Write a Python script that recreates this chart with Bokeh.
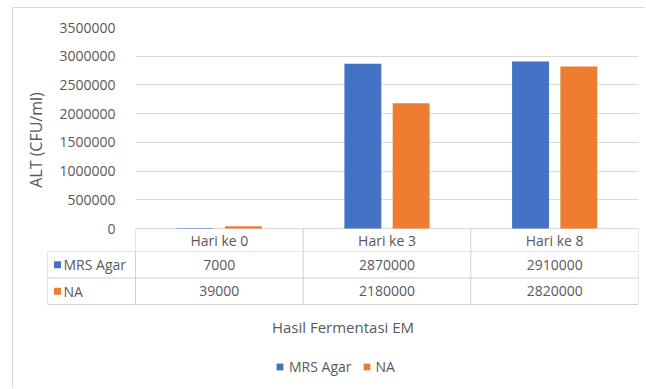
import numpy as np
from bokeh.plotting import figure
from bokeh.models import (Range1d, FixedTicker, NumeralTickFormatter, Legend, LegendItem)
from bokeh.core.properties import value
from bokeh.embed import file_html
from bokeh.resources import INLINE

# --- data -------------------------------------------------------------
days = ["Hari ke 0", "Hari ke 3", "Hari ke 8"]
mrs_agar = [7000, 2870000, 2910000]
na = [39000, 2180000, 2820000]
series_names = ["MRS Agar", "NA"]
y_ticks = [0, 500000, 1000000, 1500000, 2000000, 2500000, 3000000, 3500000]

# --- style ------------------------------------------------------------
COLORS = ["#4472C4", "#ED7D31"]
FONT = "Open Sans"
TEXT = "#595959"
GRID = "#d9d9d9"
TABLE_LINE = "#d0d0d0"
BORDER = "1px solid #d9d9d9"
FS = "14px"
FS_TITLE = "15px"

W = 633                 # figure width (page width minus left margin and border)
n = len(days)
centers = np.arange(n) + 0.5
bar_w = 0.22
dodge = 0.144

# vertical layout of the chart figure (pixels)
TOP_H = 244             # chart figure height, includes the table header row
FRAME_TOP = 19
HEADER_PX = 24          # height of the table header row under the zero line
plot_px = TOP_H - FRAME_TOP - HEADER_PX
y_max = y_ticks[-1]
y_min = -HEADER_PX * y_max / plot_px

# --- chart area + table header ---------------------------------------
top = figure(width=W, height=TOP_H, x_range=Range1d(0, n), y_range=Range1d(y_min, y_max),
             output_backend="svg", toolbar_location=None,
             min_border_left=122, min_border_right=8, min_border_top=FRAME_TOP,
             min_border_bottom=0,
             margin=(7, 0, 0, 12), styles={"border-left": BORDER, "border-top": BORDER})
top.xaxis.visible = False
top.outline_line_color = None
top.xgrid.visible = False
top.ygrid.grid_line_color = GRID

for vals, off, col in zip([mrs_agar, na], [-dodge, dodge], COLORS):
    top.vbar(x=centers + off, top=vals, width=bar_w, fill_color=col, line_color=None)

# header cells of the data table
top.segment(x0=list(range(n + 1)), y0=[y_min] * (n + 1), x1=list(range(n + 1)),
            y1=[0] * (n + 1), line_color=TABLE_LINE, line_width=1)
top.text(x=centers, y=[y_min / 2] * n, text=days, text_align="center",
         text_baseline="middle", text_font=value(FONT), text_font_size=FS, text_color=TEXT)

ya = top.yaxis[0]
ya.ticker = FixedTicker(ticks=y_ticks)
ya.formatter = NumeralTickFormatter(format="0")
ya.axis_label = "ALT (CFU/ml)"
ya.axis_label_text_font = FONT
ya.axis_label_text_font_size = "16px"
ya.axis_label_text_font_style = "normal"
ya.axis_label_text_color = TEXT
ya.axis_label_standoff = 9
ya.major_label_text_font = FONT
ya.major_label_text_font_size = FS
ya.major_label_text_color = TEXT
ya.major_label_standoff = 14
ya.axis_line_color = None
ya.major_tick_line_color = None
ya.minor_tick_line_color = None

# --- table body, axis title and legend -------------------------------
BOT_H = 389 - 7 - 1 - TOP_H
ROW_PX = 26.5
cat_px = (W - 122 - 8) / n          # pixels per category in the chart frame
x0 = -88 / cat_px                   # left edge of the row-label column
px = 1 / cat_px

bot = figure(width=W, height=BOT_H, x_range=Range1d(x0, n), y_range=Range1d(BOT_H / ROW_PX, 0),
             output_backend="svg", toolbar_location=None,
             min_border_left=34, min_border_right=8, min_border_top=0, min_border_bottom=0,
             margin=(0, 0, 0, 12), styles={"border-left": BORDER})
bot.outline_line_color = None
bot.xgrid.visible = False
bot.ygrid.visible = False
bot.xaxis.visible = False
bot.yaxis.visible = False

rows = len(series_names)
hy = list(range(rows + 1))
bot.segment(x0=[x0] * (rows + 1), y0=hy, x1=[n] * (rows + 1), y1=hy,
            line_color=TABLE_LINE, line_width=1)
vx = [x0] + list(range(n + 1))
bot.segment(x0=vx, y0=[0] * len(vx), x1=vx, y1=[rows] * len(vx),
            line_color=TABLE_LINE, line_width=1)

key_renderers = []
for i, (name, vals, col) in enumerate(zip(series_names, [mrs_agar, na], COLORS)):
    yrow = 0.5 + i
    r = bot.scatter(x=[x0 + 10 * px], y=[yrow], marker="square", size=7,
                    fill_color=col, line_color=None)
    key_renderers.append(r)
    bot.text(x=[x0 + 16 * px], y=[yrow], text=[name], text_align="left",
             text_baseline="middle", text_font=value(FONT), text_font_size=FS,
             text_color=TEXT)
    bot.text(x=centers, y=[yrow] * n, text=[str(v) for v in vals], text_align="center",
             text_baseline="middle", text_font=value(FONT), text_font_size=FS,
             text_color=TEXT)

# horizontal axis title, centred under the whole table
bot.text(x=[(x0 + n) / 2], y=[75 / ROW_PX], text=["Hasil Fermentasi EM"],
         text_align="center", text_baseline="middle", text_font=value(FONT),
         text_font_size=FS_TITLE, text_color=TEXT)

legend = Legend(items=[LegendItem(label=nm, renderers=[r]) for nm, r in zip(series_names, key_renderers)],
                orientation="horizontal", location=(224, 12),
                border_line_color=None, background_fill_alpha=0,
                label_text_font=FONT, label_text_font_size=FS, label_text_color=TEXT,
                glyph_width=17, glyph_height=17, spacing=6, label_standoff=1,
                margin=0, padding=0)
bot.add_layout(legend)

open("out.html", "w").write(file_html([top, bot], INLINE))
